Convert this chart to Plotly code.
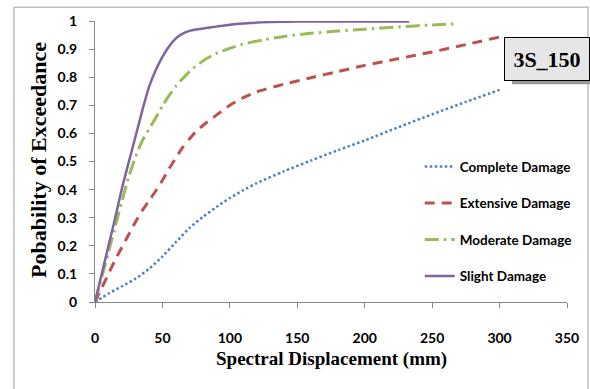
import plotly.graph_objects as go

# Data
complete_x = [0, 5, 10, 20, 30, 40, 50, 60, 70, 80, 90, 100, 110, 120, 140, 160, 180, 200, 225, 250, 275, 300]
complete_y = [0, 0.015, 0.03, 0.056, 0.083, 0.118, 0.162, 0.213, 0.263, 0.303, 0.338, 0.37, 0.398, 0.423, 0.465, 0.503, 0.54, 0.575, 0.622, 0.668, 0.712, 0.755]

extensive_x = [0, 5, 10, 15, 20, 25, 30, 35, 40, 45, 50, 55, 60, 65, 70, 75, 80, 90, 100, 110, 120, 140, 160, 180, 200, 225, 250, 275, 300]
extensive_y = [0, 0.05, 0.1, 0.15, 0.195, 0.24, 0.285, 0.325, 0.36, 0.395, 0.433, 0.475, 0.513, 0.55, 0.58, 0.607, 0.628, 0.665, 0.70, 0.727, 0.748, 0.775, 0.798, 0.82, 0.842, 0.866, 0.89, 0.916, 0.943]

moderate_x = [0, 5, 10, 15, 20, 25, 30, 35, 40, 45, 50, 55, 60, 70, 80, 90, 100, 110, 125, 140, 160, 180, 200, 225, 250, 268]
moderate_y = [0, 0.088, 0.178, 0.27, 0.36, 0.445, 0.515, 0.573, 0.615, 0.655, 0.698, 0.735, 0.768, 0.82, 0.858, 0.885, 0.903, 0.918, 0.933, 0.945, 0.956, 0.964, 0.971, 0.979, 0.986, 0.99]

slight_x = [0, 5, 10, 15, 20, 25, 30, 35, 40, 45, 50, 55, 60, 65, 70, 75, 80, 90, 100, 115, 130, 150, 200, 233]
slight_y = [0, 0.1, 0.2, 0.3, 0.405, 0.497, 0.588, 0.68, 0.765, 0.825, 0.872, 0.91, 0.938, 0.955, 0.965, 0.97, 0.973, 0.98, 0.987, 0.993, 0.996, 0.998, 0.998, 0.998]

series = [
    ("Complete Damage", complete_x, complete_y, "#4F81BD", "2.5px,2.5px", 2.5),
    ("Extensive Damage", extensive_x, extensive_y, "#C0504D", "10px,7px", 3),
    ("Moderate Damage", moderate_x, moderate_y, "#9BBB59", "14px,5px,2.5px,5px", 3),
    ("Slight Damage", slight_x, slight_y, "#8064A2", "solid", 2.5),
]

x_ticks = [0, 50, 100, 150, 200, 250, 300, 350]
y_ticks = [0, 0.1, 0.2, 0.3, 0.4, 0.5, 0.6, 0.7, 0.8, 0.9, 1]
y_tick_labels = ["0", "0.1", "0.2", "0.3", "0.4", "0.5", "0.6", "0.7", "0.8", "0.9", "1"]

fig = go.Figure()
for i, (name, xs, ys, color, dash, w) in enumerate(series):
    fig.add_trace(go.Scatter(
        x=xs, y=ys, mode="lines", name=name, legendgroup=f"g{i}",
        line=dict(color=color, dash=dash, width=w, shape="spline", smoothing=0.7),
    ))

tickfont = dict(family="Lato", size=14, color="#000000", weight="bold")

fig.update_layout(
    width=590, height=389,
    margin=dict(l=95, r=23, t=21, b=87),
    paper_bgcolor="white", plot_bgcolor="white",
    showlegend=True,
    legend=dict(
        x=0.688, y=0.537, xanchor="left", yanchor="top",
        bgcolor="rgba(0,0,0,0)", tracegroupgap=16,
        font=dict(family="Lato", size=13.5, color="#000000", weight="bold"),
    ),
    xaxis=dict(
        range=[0, 350], tickvals=x_ticks, showgrid=False, zeroline=False,
        showline=True, linecolor="#868686", linewidth=1,
        ticks="outside", ticklen=5, tickcolor="#868686",
        tickfont=tickfont, ticklabelstandoff=18,
    ),
    yaxis=dict(
        range=[0, 1], tickvals=y_ticks, ticktext=y_tick_labels, showgrid=False, zeroline=False,
        showline=True, linecolor="#868686", linewidth=1,
        ticks="outside", ticklen=5, tickcolor="#868686",
        tickfont=tickfont, ticklabelstandoff=9,
    ),
    shapes=[
        dict(type="rect", xref="paper", yref="paper", x0=-0.1716, x1=1.0445, y0=-0.34, y1=1.0488,
             line=dict(color="#bfbfbf", width=1.5), fillcolor="rgba(0,0,0,0)", layer="below"),
        dict(type="rect", xref="paper", yref="paper", x0=0.8835, x1=1.065, y0=0.7746, y1=0.9238,
             line=dict(width=0), fillcolor="#9a9a9a", layer="above"),
    ],
    annotations=[
        dict(text="Spectral Displacement (mm)", xref="paper", yref="paper", x=0.5, y=-0.204,
             xanchor="center", yanchor="middle", showarrow=False,
             font=dict(family="Liberation Serif", size=19, color="#000000", weight="bold")),
        dict(text="Pobability of Exceedance", xref="paper", yref="paper", x=-0.1197, y=0.504,
             xanchor="center", yanchor="middle", showarrow=False, textangle=-90,
             font=dict(family="Liberation Serif", size=22, color="#000000", weight="bold")),
        dict(text="3S_150", xref="paper", yref="paper", x=0.9576, y=0.8637,
             xanchor="center", yanchor="middle", showarrow=False,
             width=82, height=40, bgcolor="#e6e6e6", bordercolor="#000000", borderwidth=1,
             font=dict(family="Liberation Serif", size=22, color="#000000", weight="bold")),
    ],
)

fig.write_html("out.html")
